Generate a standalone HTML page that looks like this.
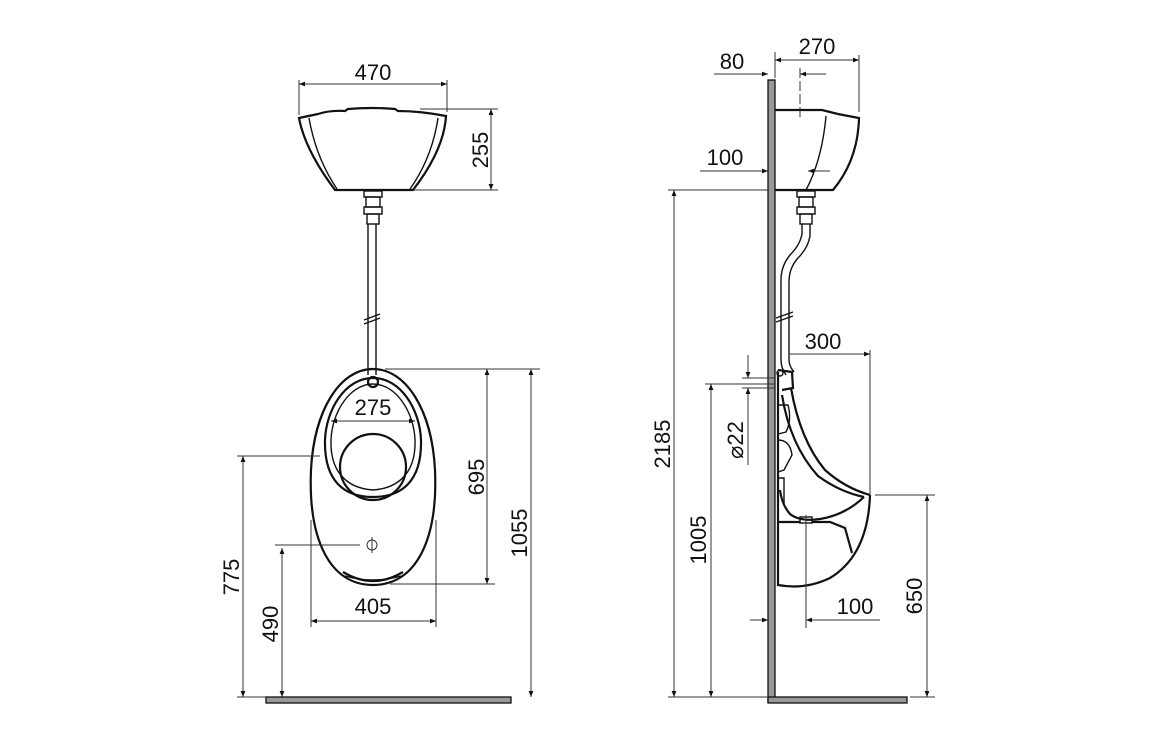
<!DOCTYPE html>
<html><head><meta charset="utf-8"><style>
html,body{margin:0;padding:0;background:#fff;}
svg{display:block;}
text{font-family:"Liberation Sans",sans-serif;font-size:22px;fill:#111;}
.d{stroke:#333;stroke-width:1;fill:none;}
.o{stroke:#111;stroke-width:2.2;fill:none;}
.t{stroke:#111;stroke-width:1.4;fill:none;}
</style></head><body>
<svg width="1156" height="742" viewBox="0 0 1156 742" xmlns="http://www.w3.org/2000/svg">
<defs>
<marker id="a" viewBox="0 0 10 10" refX="10" refY="5" markerWidth="9" markerHeight="6" orient="auto-start-reverse" markerUnits="userSpaceOnUse"><path d="M0,1 L10,5 L0,9 z" fill="#111"/></marker>
</defs>

<!-- ===== LEFT VIEW ===== -->
<line class="d" x1="299" y1="80" x2="299" y2="115"/>
<line class="d" x1="447" y1="80" x2="447" y2="112"/>
<line class="d" x1="299" y1="84" x2="447" y2="84" marker-start="url(#a)" marker-end="url(#a)"/>
<text x="373" y="80" text-anchor="middle">470</text>
<path class="o" d="M299,118 L318,114 Q330,110 345,111 L348,109 Q372,107 395,109 L398,111 Q420,111 446,116 Q444,150 413,190 L335,190 Q305,150 299,118 Z"/>
<path class="t" d="M309,118 Q316,158 337,189"/>
<path class="t" d="M438,118 Q432,158 410,189"/>
<line class="d" x1="420" y1="109" x2="498" y2="109"/>
<line class="d" x1="413" y1="190" x2="498" y2="190"/>
<line class="d" x1="491" y1="109" x2="491" y2="190" marker-start="url(#a)" marker-end="url(#a)"/>
<text transform="translate(488,150) rotate(-90)" text-anchor="middle">255</text>
<rect class="t" x="364" y="191" width="18" height="6"/>
<rect class="t" x="366" y="197" width="14" height="10"/>
<rect class="t" x="364" y="207" width="18" height="7"/>
<rect class="t" x="367" y="214" width="12" height="10"/>
<line class="t" x1="368" y1="224" x2="368" y2="375"/>
<line class="t" x1="376" y1="224" x2="376" y2="375"/>
<line class="t" x1="364" y1="320" x2="380" y2="314"/>
<line class="t" x1="364" y1="324" x2="380" y2="318"/>
<path class="o" d="M373,369 C340,369 314,410 311,470 C308,540 330,585 373,585 C416,585 438,540 435,470 C432,410 406,369 373,369 Z"/>
<path class="o" d="M373,378 C345,378 326,410 325,440 C324,482 345,497 373,497 C401,497 422,482 421,440 C420,410 401,378 373,378 Z"/>
<path class="t" d="M373,384 C350,384 332,412 331,440 C330,470 345,488 373,490"/>
<path class="t" d="M373,384 C396,384 414,412 415,440 C416,470 401,488 373,490"/>
<circle class="o" cx="373" cy="467" r="33"/>
<circle class="o" cx="373" cy="382" r="5"/>
<path class="o" d="M343,572 Q373,590 403,572"/>
<path class="t" d="M345,576 Q373,584 401,576"/>
<circle class="d" cx="372" cy="545" r="5"/>
<line class="d" x1="372" y1="537" x2="372" y2="553"/>
<line class="d" x1="331" y1="421" x2="415" y2="421" marker-start="url(#a)" marker-end="url(#a)"/>
<text x="373" y="415" text-anchor="middle">275</text>
<line class="d" x1="385" y1="369" x2="540" y2="369"/>
<line class="d" x1="390" y1="584" x2="495" y2="584"/>
<line class="d" x1="487" y1="369" x2="487" y2="584" marker-start="url(#a)" marker-end="url(#a)"/>
<text transform="translate(484,477) rotate(-90)" text-anchor="middle">695</text>
<line class="d" x1="531" y1="369" x2="531" y2="697" marker-start="url(#a)" marker-end="url(#a)"/>
<text transform="translate(527,533) rotate(-90)" text-anchor="middle">1055</text>
<line class="d" x1="311" y1="520" x2="311" y2="627"/>
<line class="d" x1="436" y1="520" x2="436" y2="627"/>
<line class="d" x1="311" y1="621" x2="436" y2="621" marker-start="url(#a)" marker-end="url(#a)"/>
<text x="373" y="614" text-anchor="middle">405</text>
<line class="d" x1="237" y1="456" x2="320" y2="456"/>
<line class="d" x1="243" y1="456" x2="243" y2="697" marker-start="url(#a)" marker-end="url(#a)"/>
<text transform="translate(239,577) rotate(-90)" text-anchor="middle">775</text>
<line class="d" x1="275" y1="545" x2="360" y2="545"/>
<line class="d" x1="282" y1="548" x2="282" y2="697" marker-start="url(#a)" marker-end="url(#a)"/>
<text transform="translate(278,624) rotate(-90)" text-anchor="middle">490</text>
<line class="d" x1="237" y1="697" x2="266" y2="697"/>
<rect x="266" y="697" width="245" height="6" fill="#999" stroke="#111" stroke-width="1.3"/>

<!-- ===== RIGHT VIEW ===== -->
<rect x="768" y="80" width="7" height="622" fill="#999" stroke="#111" stroke-width="1.3"/>
<rect x="768" y="697" width="139" height="6" fill="#999" stroke="#111" stroke-width="1.3"/>
<line class="d" x1="714" y1="74" x2="768" y2="74" marker-end="url(#a)"/>
<text x="732" y="69" text-anchor="middle">80</text>
<line class="d" x1="775" y1="52" x2="775" y2="78"/>
<line class="d" x1="859" y1="55" x2="859" y2="112"/>
<line class="d" x1="775" y1="60" x2="859" y2="60" marker-start="url(#a)" marker-end="url(#a)"/>
<text x="817" y="54" text-anchor="middle">270</text>
<line class="d" x1="800" y1="68" x2="800" y2="120" stroke-dasharray="10,3"/>
<line class="d" x1="800" y1="74" x2="826" y2="74" marker-start="url(#a)"/>
<path class="o" d="M775,110 L822,110 L838,114 L859,118 Q858,160 833,190 L775,190"/>
<path class="t" d="M826,116 Q822,160 806,190"/>
<line class="d" x1="700" y1="171" x2="768" y2="171" marker-end="url(#a)"/>
<line class="d" x1="808" y1="171" x2="830" y2="171" marker-start="url(#a)"/>
<text x="725" y="165" text-anchor="middle">100</text>
<line class="d" x1="668" y1="190" x2="768" y2="190"/>
<line class="d" x1="674" y1="190" x2="674" y2="697" marker-start="url(#a)" marker-end="url(#a)"/>
<text transform="translate(670,444) rotate(-90)" text-anchor="middle">2185</text>
<line class="d" x1="668" y1="697" x2="768" y2="697"/>
<rect class="t" x="797" y="191" width="18" height="6"/>
<rect class="t" x="799" y="197" width="14" height="10"/>
<rect class="t" x="797" y="207" width="18" height="7"/>
<rect class="t" x="800" y="214" width="12" height="10"/>
<path class="t" d="M802,224 L802,234 Q800,245 790,255 Q781,266 781,280 L781,360 Q781,368 786,375"/>
<path class="t" d="M810,224 L810,236 Q808,248 798,258 Q789,268 789,282 L789,360 Q789,366 794,372"/>
<line class="t" x1="776" y1="318" x2="793" y2="312"/>
<line class="t" x1="776" y1="322" x2="793" y2="316"/>
<!-- urinal side -->
<line class="o" x1="778" y1="372" x2="778" y2="586"/>
<path class="o" d="M778,370 L792,372 L793,388 L782,390"/>
<circle class="t" cx="780" cy="373" r="3"/>
<path class="o" d="M791,388 Q800,440 825,470 Q845,488 870,495"/>
<path class="o" d="M782,395 Q790,445 818,476 Q840,492 864,497"/>
<path class="o" d="M870,495 Q868,555 830,578 Q805,590 778,585"/>
<path class="o" d="M864,497 Q845,515 820,519 Q800,522 790,514 Q782,505 780,490"/>
<path class="t" d="M778,405 L788,405 Q792,420 786,432 L778,434"/>
<path class="t" d="M778,440 Q790,440 792,455 L784,470 L778,472"/>
<path class="t" d="M778,478 L784,478 L784,505"/>
<path class="o" d="M778,522 L800,522"/>
<path class="o" d="M812,522 L830,522 L845,528 L852,553"/>
<rect class="t" x="800" y="517" width="12" height="6"/>
<line class="d" x1="790" y1="354" x2="870" y2="354" marker-end="url(#a)"/>
<line class="d" x1="870" y1="350" x2="870" y2="495"/>
<text x="823" y="349" text-anchor="middle">300</text>
<line class="d" x1="742" y1="378" x2="775" y2="378"/>
<line class="d" x1="742" y1="388" x2="775" y2="388"/>
<line class="d" x1="748" y1="355" x2="748" y2="378" marker-end="url(#a)"/>
<line class="d" x1="748" y1="410" x2="748" y2="388" marker-end="url(#a)"/>
<line class="d" x1="748" y1="410" x2="748" y2="465"/>
<text transform="translate(743,440) rotate(-90)" text-anchor="middle">⌀22</text>
<line class="d" x1="705" y1="384" x2="775" y2="384"/>
<line class="d" x1="711" y1="384" x2="711" y2="697" marker-start="url(#a)" marker-end="url(#a)"/>
<text transform="translate(706,540) rotate(-90)" text-anchor="middle">1005</text>
<line class="d" x1="806" y1="515" x2="806" y2="628"/>
<line class="d" x1="750" y1="620" x2="768" y2="620" marker-end="url(#a)"/>
<line class="d" x1="880" y1="620" x2="806" y2="620" marker-end="url(#a)"/>
<text x="855" y="614" text-anchor="middle">100</text>
<line class="d" x1="875" y1="495" x2="935" y2="495"/>
<line class="d" x1="910" y1="697" x2="935" y2="697"/>
<line class="d" x1="927" y1="495" x2="927" y2="697" marker-start="url(#a)" marker-end="url(#a)"/>
<text transform="translate(922,596) rotate(-90)" text-anchor="middle">650</text>
</svg>
</body></html>
